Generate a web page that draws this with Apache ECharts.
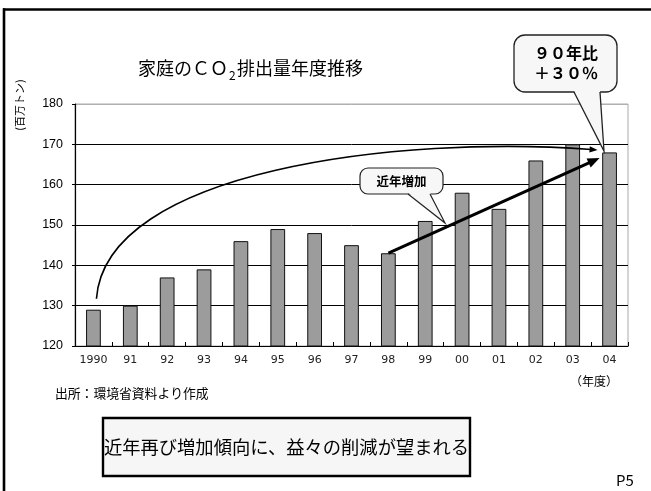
<!DOCTYPE html>
<html><head><meta charset="utf-8">
<script src="https://cdn.jsdelivr.net/npm/echarts@6/dist/echarts.min.js"></script>
<style>html,body{margin:0;padding:0;background:#fff}#c{width:651px;height:491px}</style>
</head><body><div id="c"></div>
<script>
// ---- data ----
const categories = ['1990','91','92','93','94','95','96','97','98','99','00','01','02','03','04'];
const emissions = [129,130,137,139,146,149,148,145,143,151,158,154,166,170,168];
const yMin = 120, yMax = 180, yInterval = 10;
const titleParts = ['家庭のＣＯ', '2', '排出量年度推移'];
const yAxisName = '(百万トン)';
const xAxisName = '（年度）';
const sourceText = '出所：環境省資料より作成';
const messageText = '近年再び増加傾向に、益々の削減が望まれる';
const callout1Lines = ['９０年比', '＋３０％'];
const callout2Text = '近年増加';
const pageText = 'P5';
// annotation anchors (data space)
const trendFrom = ['98', 143];
const trendTo = ['04', 166.6];
const curveFrom = ['1990', 131.7];
const curveTo = ['04', 168.6];

const JP = '"Noto Sans CJK JP", "Noto Sans", sans-serif';
const chart = echarts.init(document.getElementById('c'), null, {renderer: 'canvas'});

const splitColors = [];
for (let v = yMin; v <= yMax; v += yInterval) splitColors.push(v === yMax ? '#b0b0b0' : '#000');

chart.setOption({
  animation: false,
  backgroundColor: '#fff',
  grid: {left: 75, right: 23, top: 104, bottom: 145, show: true, borderColor: '#aaaaaa', borderWidth: 1, backgroundColor: 'transparent'},
  xAxis: {
    type: 'category', data: categories,
    axisLine: {lineStyle: {color: '#000', width: 1.2}},
    axisTick: {show: true, inside: true, length: 4, interval: 0, lineStyle: {color: '#000'}},
    axisLabel: {color: '#222', fontSize: 11, fontFamily: '"DejaVu Sans", sans-serif', margin: 9, interval: 0},
    splitLine: {show: false}
  },
  yAxis: {
    type: 'value', min: yMin, max: yMax, interval: yInterval,
    axisLine: {show: true, lineStyle: {color: '#000', width: 1.2}},
    axisTick: {show: true, length: 3, lineStyle: {color: '#000'}},
    axisLabel: {color: '#000', fontSize: 12.5, fontFamily: '"Liberation Sans", Arial, sans-serif', margin: 12},
    splitLine: {show: true, lineStyle: {color: splitColors, width: 1}}
  },
  series: [{
    type: 'bar', data: emissions, barWidth: '40%',
    itemStyle: {color: '#9c9c9c', borderColor: '#111', borderWidth: 1},
    z: 3
  }]
});

function px(pt) { return chart.convertToPixel({gridIndex: 0}, pt); }
function head(tip, ang, len, hw) {
  const c = Math.cos(ang), s = Math.sin(ang);
  const bx = tip[0] - len * c, by = tip[1] - len * s;
  return [[tip[0], tip[1]], [bx - hw * s, by + hw * c], [bx + hw * s, by - hw * c]];
}

// straight trend arrow
const a0 = px(trendFrom); const a1 = px(trendTo); a1[0] -= 10;
const angA = Math.atan2(a1[1] - a0[1], a1[0] - a0[0]);
const aBase = [a1[0] - 11 * Math.cos(angA), a1[1] - 11 * Math.sin(angA)];

// curved arrow
const c0 = px(curveFrom); c0[0] += 3;
const c1 = px(curveTo); c1[0] -= 12;
const cp1 = [c0[0] + 9, c0[1] - 129];
const cp2 = [c1[0] - 197, c1[1] - 15];
const angC = Math.atan2(c1[1] - cp2[1], c1[0] - cp2[0]);

function callout(x0, y0, x1, y1, r, b0, b1, tip, lw) {
  return [
    {type: 'rect', shape: {x: x0, y: y0, width: x1 - x0, height: y1 - y0, r: r}, style: {fill: '#f7f7f7', stroke: '#222', lineWidth: lw}, z: 160},
    {type: 'polygon', shape: {points: [[b0, y1 - 1.5], [tip[0], tip[1]], [b1, y1 - 1.5]]}, style: {fill: '#f7f7f7'}, z: 161},
    {type: 'polyline', shape: {points: [[b0, y1], [tip[0], tip[1]], [b1, y1]]}, style: {stroke: '#222', lineWidth: lw, fill: null}, z: 162}
  ];
}

const graphics = [
  // frame
  {type: 'line', shape: {x1: 3, y1: 9.5, x2: 651, y2: 9.5}, style: {stroke: '#000', lineWidth: 2.6}, z: 200},
  {type: 'line', shape: {x1: 4, y1: 8.2, x2: 4, y2: 491}, style: {stroke: '#000', lineWidth: 2.6}, z: 200},
  // title
  {type: 'text', x: 138, y: 68, style: {text: titleParts[0], font: '18px ' + JP, fill: '#000', textVerticalAlign: 'middle'}, z: 200},
  {type: 'text', x: 229, y: 75, style: {text: titleParts[1], font: '12px ' + JP, fill: '#000', textVerticalAlign: 'middle'}, z: 200},
  {type: 'text', x: 237, y: 68, style: {text: titleParts[2], font: '18px ' + JP, fill: '#000', textVerticalAlign: 'middle'}, z: 200},
  // y axis name
  {type: 'text', x: 20, y: 105, rotation: Math.PI / 2, style: {text: yAxisName, font: '11px ' + JP, fill: '#000', textAlign: 'center', textVerticalAlign: 'middle'}, z: 200},
  // x axis name
  {type: 'text', x: 594, y: 381, style: {text: xAxisName, font: '12px ' + JP, fill: '#000', textAlign: 'center', textVerticalAlign: 'middle'}, z: 200},
  // source
  {type: 'text', x: 55, y: 393, style: {text: sourceText, font: '12.8px ' + JP, fill: '#000', textVerticalAlign: 'middle'}, z: 200},
  // message box
  {type: 'rect', shape: {x: 103, y: 418, width: 367, height: 58}, style: {fill: '#f6f6f6', stroke: '#000', lineWidth: 2.4}, z: 200},
  {type: 'text', x: 286.5, y: 447, style: {text: messageText, font: '18.3px ' + JP, fill: '#000', textAlign: 'center', textVerticalAlign: 'middle'}, z: 201},
  // page no
  {type: 'text', x: 625, y: 480, style: {text: pageText, font: '15px ' + JP, fill: '#000', textAlign: 'center', textVerticalAlign: 'middle'}, z: 200},
  // curved arrow
  {type: 'bezierCurve', shape: {x1: c0[0], y1: c0[1], cpx1: cp1[0], cpy1: cp1[1], cpx2: cp2[0], cpy2: cp2[1], x2: c1[0] - 6 * Math.cos(angC), y2: c1[1] - 6 * Math.sin(angC)}, style: {stroke: '#000', lineWidth: 1.6, fill: null}, z: 150},
  {type: 'polygon', shape: {points: head(c1, angC, 8, 3.2)}, style: {fill: '#000'}, z: 150},
  // straight arrow
  {type: 'line', shape: {x1: a0[0], y1: a0[1], x2: aBase[0], y2: aBase[1]}, style: {stroke: '#000', lineWidth: 3}, z: 150},
  {type: 'polygon', shape: {points: head(a1, angA, 12, 5)}, style: {fill: '#000'}, z: 150}
]
.concat(callout(514, 35, 617, 92, 11, 574, 600, [604, 151], 1.3))
.concat([
  {type: 'text', x: 566, y: 53, style: {text: callout1Lines[0], font: 'bold 16px ' + JP, fill: '#000', textAlign: 'center', textVerticalAlign: 'middle'}, z: 170},
  {type: 'text', x: 566, y: 73, style: {text: callout1Lines[1], font: 'bold 16px ' + JP, fill: '#000', textAlign: 'center', textVerticalAlign: 'middle'}, z: 170}
])
.concat(callout(360, 168, 443, 194, 8, 408, 430, [445, 223], 1.2))
.concat([
  {type: 'text', x: 401.5, y: 181.5, style: {text: callout2Text, font: 'bold 12.5px ' + JP, fill: '#000', textAlign: 'center', textVerticalAlign: 'middle'}, z: 170}
]);
chart.setOption({graphic: {elements: graphics}});
</script>
</body></html>
